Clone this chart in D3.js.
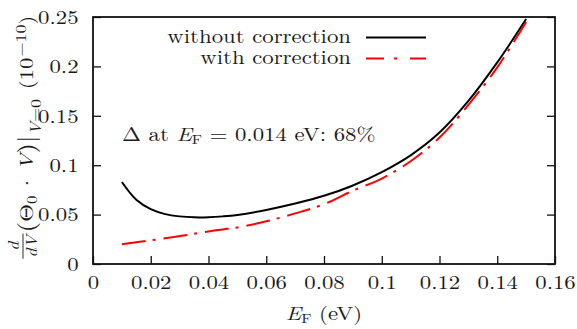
<!DOCTYPE html>
<html>
<head>
<meta charset="utf-8">
<script src="https://cdn.jsdelivr.net/npm/d3@7"></script>
<style>
  body { margin: 0; background: #fff; }
  text { font-family: "Latin Modern Roman", "DejaVu Serif", serif; fill: #1a1a1a; }
</style>
</head>
<body>
<div id="chart"></div>
<script>
// energy values (eV)
const xValues = [0.01, 0.015, 0.02, 0.025, 0.03, 0.035, 0.04, 0.045, 0.05, 0.06, 0.07, 0.08, 0.09, 0.1, 0.11, 0.12, 0.13, 0.14, 0.15];
const withoutCorrection = [0.083, 0.065, 0.0555, 0.0505, 0.0482, 0.0472, 0.0473, 0.0482, 0.0497, 0.0547, 0.0612, 0.069, 0.0795, 0.093, 0.11, 0.133, 0.165, 0.204, 0.248];
const withCorrection = [0.02, 0.022, 0.024, 0.026, 0.0283, 0.0305, 0.033, 0.035, 0.037, 0.0432, 0.0512, 0.0605, 0.0742, 0.0865, 0.104, 0.128, 0.161, 0.199, 0.245];
const xTicks = [0, 0.02, 0.04, 0.06, 0.08, 0.1, 0.12, 0.14, 0.16];
const yTicks = [0, 0.05, 0.1, 0.15, 0.2, 0.25];
const seriesNames = ["without correction", "with correction"];

const width = 577;
const height = 329;
const margin = { left: 93, right: 22, top: 17, bottom: 65 };
const FS = 19;     // font size
const KX = 1.2;    // the reference text is drawn wide

const svg = d3.select("#chart")
  .append("svg")
  .attr("width", width)
  .attr("height", height);

const xScale = d3.scaleLinear().domain([0, 0.16]).range([margin.left, width - margin.right]);
const yScale = d3.scaleLinear().domain([0, 0.25]).range([height - margin.bottom, margin.top]);

// wide text helper
function wtext(parent, x, y, anchor, size) {
  return parent.append("g")
    .attr("transform", `translate(${x},${y}) scale(${KX},1)`)
    .append("text")
    .attr("text-anchor", anchor)
    .attr("font-size", size || FS);
}

const tickLen = 8;
const fmt = d => d === 0 ? "0" : String(+d.toFixed(3));

svg.append("g")
  .attr("transform", `translate(0, ${yScale(0)})`)
  .call(d3.axisBottom(xScale).tickValues(xTicks).tickSize(-tickLen).tickFormat(fmt))
  .call(g => g.select(".domain").remove())
  .call(g => g.selectAll("line").attr("stroke", "#111").attr("stroke-width", 1.3))
  .call(g => g.selectAll("text")
    .attr("y", 25).attr("dy", null)
    .attr("font-size", FS).attr("fill", "#1a1a1a")
    .attr("font-family", "Latin Modern Roman, DejaVu Serif, serif")
    .attr("transform", `scale(${KX},1)`));

svg.append("g")
  .attr("transform", `translate(${xScale(0)}, 0)`)
  .call(d3.axisLeft(yScale).tickValues(yTicks).tickSize(-tickLen).tickFormat(fmt))
  .call(g => g.select(".domain").remove())
  .call(g => g.selectAll("line").attr("stroke", "#111").attr("stroke-width", 1.3))
  .call(g => g.selectAll("text")
    .attr("x", -12).attr("dy", "0.33em")
    .attr("font-size", FS).attr("fill", "#1a1a1a")
    .attr("font-family", "Latin Modern Roman, DejaVu Serif, serif")
    .attr("transform", `scale(${KX},1)`));

svg.append("g")
  .attr("transform", `translate(${xScale(0.16)}, 0)`)
  .call(d3.axisRight(yScale).tickValues(yTicks).tickSize(-tickLen).tickFormat(""))
  .call(g => g.select(".domain").remove())
  .call(g => g.selectAll("line").attr("stroke", "#111").attr("stroke-width", 1.3));

// frame
svg.append("rect")
  .attr("x", xScale(0))
  .attr("y", yScale(0.25))
  .attr("width", xScale(0.16) - xScale(0))
  .attr("height", yScale(0) - yScale(0.25))
  .attr("fill", "none")
  .attr("stroke", "#111")
  .attr("stroke-width", 1.8);

// curves
const line = (ys) => d3.line()
  .x((d, i) => xScale(xValues[i]))
  .y(d => yScale(d))
  .curve(d3.curveCatmullRom.alpha(0.5))(ys);

svg.append("path")
  .attr("d", line(withoutCorrection))
  .attr("fill", "none")
  .attr("stroke", "#000")
  .attr("stroke-width", 2);

svg.append("path")
  .attr("d", line(withCorrection))
  .attr("fill", "none")
  .attr("stroke", "#ff0000")
  .attr("stroke-width", 2)
  .attr("stroke-dasharray", "24,7,3,8");

// legend
const legend = [
  { name: seriesNames[0], color: "#000", dash: null, y: 37.5 },
  { name: seriesNames[1], color: "#ff0000", dash: "18,10,3,13", y: 58.5 }
];
legend.forEach(l => {
  wtext(svg, 351, l.y + 5, "end").text(l.name);
  svg.append("line")
    .attr("x1", 366).attr("x2", 426)
    .attr("y1", l.y).attr("y2", l.y)
    .attr("stroke", l.color)
    .attr("stroke-width", 2)
    .attr("stroke-dasharray", l.dash);
});

// annotation
const ann = wtext(svg, 122, 141, "start");
ann.append("tspan").text("Δ at ");
ann.append("tspan").attr("font-style", "italic").text("E");
ann.append("tspan").attr("font-size", 13).attr("dy", 3).text("F");
ann.append("tspan").attr("dy", -3).text(" = 0.014 eV: 68%");

// x-axis label
const xl = wtext(svg, 324, 320, "middle");
xl.append("tspan").attr("font-style", "italic").text("E");
xl.append("tspan").attr("font-size", 13).attr("dy", 3).text("F");
xl.append("tspan").attr("dy", -3).text(" (eV)");

// y-axis label (rotated, stretched along the text like the others)
const yl = svg.append("g").attr("transform", `translate(32.5, 140) rotate(-90) scale(${KX},1)`);
yl.append("text").attr("x", -88.5).attr("y", -13.5).attr("text-anchor", "middle")
  .attr("font-size", 15).attr("font-style", "italic").text("d");
yl.append("line").attr("x1", -99).attr("x2", -78).attr("y1", -9.5).attr("y2", -9.5)
  .attr("stroke", "#1a1a1a").attr("stroke-width", 0.9);
yl.append("text").attr("x", -88.5).attr("y", 4.5).attr("text-anchor", "middle")
  .attr("font-size", 15).attr("font-style", "italic").text("dV");
const yt = yl.append("text").attr("x", -77).attr("y", 0).attr("font-size", FS);
yt.append("tspan").attr("font-size", 23).attr("dy", 1).text("(");
yt.append("tspan").attr("dy", -1).text("Θ");
yt.append("tspan").attr("font-size", 14).attr("dy", 4).text("0");
yt.append("tspan").attr("dy", -4).attr("dx", 3).text("·");
yt.append("tspan").attr("dx", 3).attr("font-style", "italic").text("V");
yt.append("tspan").attr("font-size", 23).attr("dy", 1).text(")");
yt.append("tspan").attr("font-size", 23).text("|");
yt.append("tspan").attr("font-size", 15).attr("dy", 7).attr("font-style", "italic").text("V");
yt.append("tspan").attr("font-size", 15).text("=0");
yt.append("tspan").attr("dx", 8).attr("dy", -8).text("(10");
yt.append("tspan").attr("font-size", 15).attr("dx", 1).attr("dy", -7).text("−10");
yt.append("tspan").attr("dy", 7).text(")");
</script>
</body>
</html>
